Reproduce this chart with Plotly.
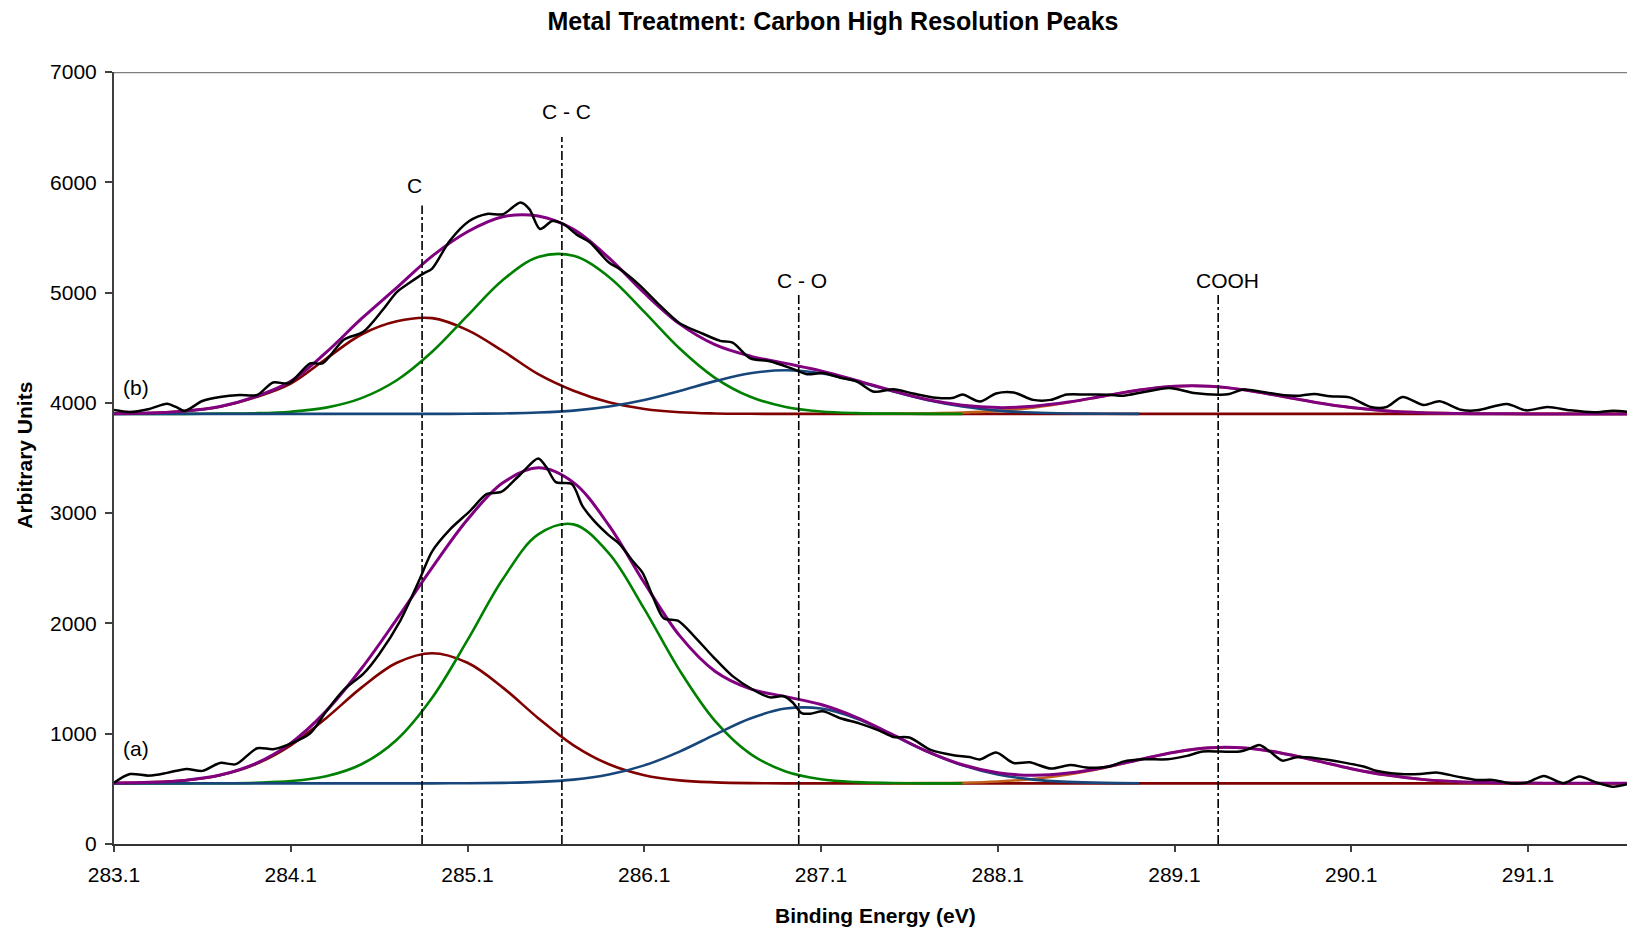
import plotly.graph_objects as go

# ---------------------------------------------------------------------------
# Binding-energy grid used for the fitted curves (eV)
energy_grid = [283.1, 283.3, 283.5, 283.7, 283.9, 284.1, 284.3, 284.5, 284.7, 284.9,
               285.1, 285.3, 285.5, 285.7, 285.9, 286.1, 286.3, 286.5, 286.7, 286.9,
               287.1, 287.3, 287.5, 287.7, 287.9, 288.1, 288.3, 288.5, 288.7, 288.9,
               289.1, 289.3, 289.5, 289.7, 289.9, 290.1, 290.3, 290.5, 290.7, 290.9,
               291.1, 291.3, 291.5, 291.7]

# Spectrum (a): fitted components and envelope
a_c = [552, 559, 577, 624, 723, 895, 1141, 1418, 1643, 1730, 1643, 1418, 1141, 895, 723,
       624, 577, 559, 552, 550] + [550] * 24
a_cc = [550, 550, 550, 551, 556, 570, 614, 723, 946, 1326, 1848, 2403, 2807, 2898, 2636,
        2132, 1574, 1116, 817, 658, 587, 561, 553, 550] + [550] * 20
a_co = [550] * 10 + [551, 554, 563, 584, 630, 713, 838, 992, 1138, 1228, 1228, 1138, 992,
                     838, 713, 630, 584, 563, 554, 551] + [550] * 14
a_cooh = [550] * 22 + [551, 552, 556, 567, 589, 630, 690, 763, 832, 872, 870, 826, 756, 683,
                       625, 586, 565, 556, 552, 550, 550, 550]
a_envelope = [552, 559, 577, 625, 729, 915, 1205, 1591, 2039, 2506, 2942, 3275, 3411, 3277,
              2889, 2369, 1889, 1567, 1407, 1336, 1265, 1149, 996, 840, 719, 647, 623, 643,
              694, 764, 832, 872, 870, 826, 756, 683, 625, 586, 565, 556, 552, 550, 550, 550]

# Spectrum (b): fitted components and envelope
b_c = [3902, 3908, 3925, 3965, 4050, 4175, 4400, 4620, 4740, 4768, 4660, 4470, 4260, 4110,
       4005, 3945, 3915, 3904, 3901] + [3900] * 25
b_cc = [3900, 3900, 3900, 3902, 3906, 3920, 3957, 4043, 4205, 4463, 4791, 5114, 5322, 5333,
        5142, 4825, 4493, 4227, 4055, 3963, 3922, 3907, 3902] + [3900] * 21
b_co = [3900] * 10 + [3901, 3904, 3912, 3930, 3967, 4026, 4108, 4197, 4268, 4295, 4268,
                      4197, 4108, 4026, 3967, 3930, 3912, 3904, 3901] + [3900] * 15
b_cooh = [3900] * 22 + [3901, 3904, 3911, 3927, 3957, 4003, 4061, 4117, 4151, 4151, 4117,
                        4061, 4003, 3957, 3927, 3911, 3904, 3901] + [3900] * 4
b_envelope = [3902, 3908, 3925, 3967, 4056, 4195, 4457, 4763, 5045, 5331, 5552, 5688, 5694,
              5573, 5314, 4996, 4716, 4528, 4424, 4358, 4290, 4204, 4111, 4030, 3978, 3957,
              3969, 4007, 4062, 4117, 4151, 4151, 4117, 4061, 4003, 3957, 3927, 3911, 3904,
              3901, 3900, 3900, 3900, 3900]

# Measured spectra
raw_a_energy = [283.10, 283.19, 283.30, 283.40, 283.51, 283.60, 283.70, 283.79, 283.91, 284.00,
                284.09, 284.21, 284.30, 284.40, 284.51, 284.60, 284.72, 284.83, 284.90, 285.00,
                285.11, 285.21, 285.29, 285.40, 285.50, 285.55, 285.60, 285.69, 285.75, 285.81,
                285.90, 285.96, 286.04, 286.09, 286.15, 286.21, 286.29, 286.38, 286.49, 286.60,
                286.72, 286.81, 286.89, 286.94, 286.99, 287.04, 287.11, 287.21, 287.32, 287.43,
                287.51, 287.60, 287.72, 287.85, 287.94, 288.00, 288.09, 288.19, 288.28, 288.40,
                288.51, 288.60, 288.68, 288.73, 288.81, 288.92, 289.06, 289.17, 289.26, 289.36,
                289.47, 289.53, 289.58, 289.64, 289.71, 289.79, 289.90, 290.06, 290.17, 290.24,
                290.38, 290.49, 290.59, 290.70, 290.81, 290.90, 291.00, 291.09, 291.19, 291.30,
                291.39, 291.49, 291.58, 291.66]
raw_a_counts = [555, 634, 620, 645, 681, 663, 735, 724, 868, 860,
                904, 1004, 1201, 1398, 1542, 1721, 2026, 2403, 2654, 2851,
                3013, 3174, 3192, 3353, 3496, 3407, 3281, 3264, 3066, 2941,
                2798, 2720, 2556, 2461, 2238, 2047, 2025, 1888, 1697, 1522,
                1394, 1330, 1340, 1283, 1187, 1181, 1203, 1140, 1092, 1028,
                971, 965, 853, 805, 789, 767, 830, 735, 741, 684,
                716, 694, 694, 702, 747, 768, 768, 799, 838, 838,
                838, 868, 898, 838, 756, 787, 778, 738, 702, 665,
                635, 635, 647, 611, 581, 581, 551, 556, 617, 551,
                611, 556, 520, 542]

raw_b_energy = [283.10, 283.19, 283.30, 283.40, 283.45, 283.50, 283.60, 283.70, 283.81, 283.91,
                284.00, 284.09, 284.21, 284.28, 284.40, 284.51, 284.62, 284.70, 284.77, 284.85,
                284.90, 285.00, 285.11, 285.21, 285.30, 285.40, 285.45, 285.51, 285.58, 285.64,
                285.72, 285.79, 285.90, 285.96, 286.07, 286.19, 286.30, 286.41, 286.53, 286.60,
                286.70, 286.81, 286.94, 287.02, 287.11, 287.21, 287.30, 287.40, 287.51, 287.62,
                287.75, 287.85, 287.90, 288.00, 288.09, 288.19, 288.30, 288.40, 288.49, 288.60,
                288.73, 288.81, 288.92, 289.07, 289.21, 289.36, 289.41, 289.49, 289.60, 289.72,
                289.81, 289.89, 289.98, 290.09, 290.21, 290.30, 290.39, 290.51, 290.60, 290.72,
                290.81, 290.98, 291.09, 291.21, 291.34, 291.47, 291.58, 291.66]
raw_b_counts = [3935, 3917, 3945, 3992, 3963, 3927, 4017, 4053, 4071, 4071,
                4185, 4178, 4358, 4358, 4573, 4644, 4842, 5004, 5086, 5172,
                5218, 5470, 5649, 5713, 5710, 5817, 5757, 5577, 5649, 5624,
                5523, 5459, 5272, 5215, 5072, 4881, 4722, 4642, 4562, 4546,
                4403, 4378, 4308, 4260, 4270, 4228, 4196, 4101, 4123, 4085,
                4046, 4046, 4075, 4012, 4085, 4094, 4027, 4027, 4075, 4075,
                4074, 4065, 4096, 4135, 4090, 4074, 4081, 4120, 4099, 4068,
                4065, 4081, 4059, 4050, 3963, 3963, 4053, 3981, 4014, 3938,
                3932, 3990, 3932, 3963, 3932, 3914, 3929, 3920]

# Peak assignments: marker line position, line top, label position
peak_names = ["C", "C - C", "C - O", "COOH"]
peak_energy = [284.843, 285.634, 286.974, 289.347]
peak_line_top = [5790, 6410, 5000, 5000]
peak_label_energy = [284.80, 285.66, 286.99, 289.40]
peak_label_height = [5970, 6640, 5105, 5105]

x_ticks = [283.1, 284.1, 285.1, 286.1, 287.1, 288.1, 289.1, 290.1, 291.1]
y_ticks = [0, 1000, 2000, 3000, 4000, 5000, 6000, 7000]

# ---------------------------------------------------------------------------
FONT = "Liberation Sans, Arial, sans-serif"
C_RED = "#800000"
C_GREEN = "#008000"
C_BLUE = "#17477a"
C_ORANGE = "#c0601a"
C_PURPLE = "#800080"

fig = go.Figure()


def add_curve(x, y, color, width, lo=None, hi=None, smoothing=1.0):
    pts = [(e, v) for e, v in zip(x, y)
           if (lo is None or e >= lo - 1e-9) and (hi is None or e <= hi + 1e-9)]
    fig.add_trace(go.Scatter(
        x=[p[0] for p in pts], y=[p[1] for p in pts], mode="lines",
        line=dict(color=color, width=width, shape="spline", smoothing=smoothing),
        hoverinfo="skip", showlegend=False))


for comp_c, comp_cooh, comp_cc, comp_co, env, rx, ry in [
        (a_c, a_cooh, a_cc, a_co, a_envelope, raw_a_energy, raw_a_counts),
        (b_c, b_cooh, b_cc, b_co, b_envelope, raw_b_energy, raw_b_counts)]:
    add_curve(energy_grid, comp_c, C_RED, 2.6)
    add_curve(energy_grid, comp_cooh, C_ORANGE, 2.6, lo=287.5)
    add_curve(energy_grid, comp_cc, C_GREEN, 2.6, hi=287.9)
    add_curve(energy_grid, comp_co, C_BLUE, 2.6, hi=288.9)
    add_curve(energy_grid, env, C_PURPLE, 3.0)
    add_curve(rx, ry, "#000000", 2.5, smoothing=0.8)

# dash-dot markers for each peak assignment
for e, top in zip(peak_energy, peak_line_top):
    fig.add_shape(type="line", xref="x", yref="y", x0=e, x1=e, y0=0, y1=top,
                  line=dict(color="#000000", width=1.6, dash="dashdot"))

for name, e, h in zip(peak_names, peak_label_energy, peak_label_height):
    fig.add_annotation(x=e, y=h, xref="x", yref="y", text=name, showarrow=False,
                       font=dict(family=FONT, size=21, color="#000000"),
                       xanchor="center", yanchor="middle")

# spectrum tags
fig.add_annotation(x=283.14, y=4142, xref="x", yref="y", text="(b)", showarrow=False,
                   font=dict(family=FONT, size=21, color="#000000"),
                   xanchor="left", yanchor="middle")
fig.add_annotation(x=283.14, y=862, xref="x", yref="y", text="(a)", showarrow=False,
                   font=dict(family=FONT, size=21, color="#000000"),
                   xanchor="left", yanchor="middle")

# top frame line
fig.add_shape(type="line", xref="paper", yref="y", x0=0, x1=1, y0=7000, y1=7000,
              line=dict(color="#808080", width=2.5))

# axis titles
fig.add_annotation(x=0.503, y=-0.092, xref="paper", yref="paper",
                   text="<b>Binding Energy (eV)</b>", showarrow=False,
                   font=dict(family=FONT, size=21, color="#000000"),
                   xanchor="center", yanchor="middle")
fig.add_annotation(x=-0.0588, y=0.503, xref="paper", yref="paper",
                   text="<b>Arbitrary Units</b>", showarrow=False, textangle=-90,
                   font=dict(family=FONT, size=21, color="#000000"),
                   xanchor="center", yanchor="middle")

fig.update_layout(
    width=1627, height=930,
    margin=dict(l=114, r=0, t=72, b=86),
    paper_bgcolor="white", plot_bgcolor="white",
    font=dict(family=FONT, size=21, color="#000000"),
    title=dict(text="<b>Metal Treatment: Carbon High Resolution Peaks</b>",
               x=0.512, xanchor="center", xref="container", y=0.9774, yanchor="middle",
               font=dict(family=FONT, size=25, color="#000000")),
    xaxis=dict(range=[283.1, 291.66], tickvals=x_ticks,
               ticktext=[f"{t:.1f}" for t in x_ticks],
               ticks="outside", ticklen=6, tickwidth=1.5, tickcolor="#404040",
               ticklabelstandoff=5,
               showline=True, linecolor="#333333", linewidth=2,
               showgrid=False, zeroline=False,
               tickfont=dict(family=FONT, size=21, color="#000000")),
    yaxis=dict(range=[0, 7000], tickvals=y_ticks, ticktext=[str(t) for t in y_ticks],
               ticks="outside", ticklen=7, tickwidth=1.5, tickcolor="#404040",
               ticklabelstandoff=4,
               showline=True, linecolor="#404040", linewidth=2,
               showgrid=False, zeroline=False,
               tickfont=dict(family=FONT, size=21, color="#000000")),
)

fig.write_html("out.html")
